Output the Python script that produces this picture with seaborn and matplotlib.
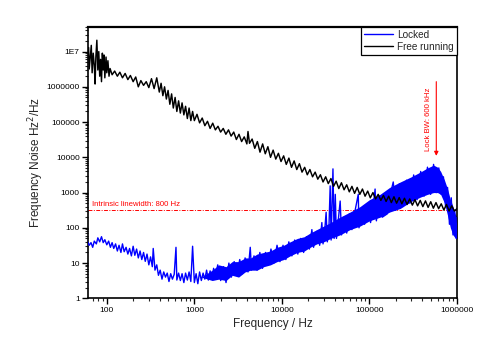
import matplotlib
matplotlib.use("Agg")
import matplotlib.pyplot as plt
from matplotlib.ticker import FixedLocator, FixedFormatter, LogLocator, NullFormatter
import seaborn as sns
import pandas as pd

# ---------------- data ----------------
free_freq = [60, 62, 63, 65, 66.5, 68, 70, 72, 73.5, 75,
             77, 79, 81, 83, 85, 87, 89, 91, 93, 95,
             98, 100, 103, 106, 109,
             115, 123, 132, 141, 151, 162, 174, 186, 200, 214,
             229, 245, 263, 282, 302, 324, 347, 372, 398, 417,
             437, 457, 479, 501, 525, 550, 575, 603, 631, 661,
             692, 724, 759, 794, 832, 871, 912, 955, 1000, 1072,
             1148, 1230, 1318, 1413, 1514, 1622, 1738, 1862, 1995, 2138,
             2291, 2455, 2630, 2818, 3020, 3236, 3467, 3715, 3981, 4100,
             4266, 4571, 4898, 5248, 5623, 6026, 6457, 6918, 7413, 7943,
             8511, 9120, 9772, 10470, 11220, 12020, 12880, 13800, 14790, 15850,
             16980, 18200, 19500, 20890, 22390, 23990, 25700, 27540, 29510, 31620,
             33880, 36310, 38900, 41690, 44670, 47860, 51290, 54950, 58880, 63100,
             67610, 72440, 77620, 83180, 89130, 95500, 102300, 109600, 117500, 125900,
             134900, 144500, 154900, 166000, 177800, 190500, 204200, 218800, 234400, 251200,
             269200, 288400, 309000, 331100, 354800, 380200, 407400, 436500, 467700, 501200,
             537000, 575400, 616600, 660700, 707900, 758600, 812800, 871000, 933300, 1000000]
free_noise = [6.0e6, 1.3e7, 3.2e6, 8.0e6, 1.5e7, 2.5e6, 9.0e6, 4.0e6, 1.2e6, 7.0e6,
              2.1e7, 3.0e6, 1.0e7, 2.0e6, 6.0e6, 1.4e6, 9.0e6, 3.0e6, 8.0e6, 1.8e6,
              7.0e6, 2.5e6, 5.5e6, 2.0e6, 3.3e6,
              2.2e6, 2.8e6, 2.0e6, 2.6e6, 1.8e6, 2.4e6, 1.6e6, 2.1e6, 1.4e6, 1.9e6,
              1.0e6, 1.5e6, 1.1e6, 1.4e6, 9.5e5, 1.7e6, 8.9e5, 1.8e6, 7.1e5, 1.26e6,
              5.6e5, 1.0e6, 4.5e5, 7.9e5, 3.2e5, 6.3e5, 2.5e5, 5.0e5, 2.0e5, 4.0e5,
              1.8e5, 3.5e5, 1.6e5, 2.8e5, 1.26e5, 2.5e5, 1.1e5, 2.0e5, 1.1e5, 1.66e5,
              9.5e4, 1.3e5, 7.9e4, 1.05e5, 6.6e4, 9.3e4, 6.0e4, 7.6e4, 5.2e4, 6.6e4,
              4.5e4, 6.0e4, 4.0e4, 5.2e4, 3.2e4, 4.5e4, 2.8e4, 3.8e4, 2.4e4, 5.4e4,
              2.5e4, 3.3e4, 1.8e4, 2.8e4, 1.4e4, 2.4e4, 1.26e4, 2.0e4, 1.0e4, 1.6e4,
              8.9e3, 1.3e4, 7.6e3, 1.1e4, 6.3e3, 9.5e3, 5.2e3, 7.9e3, 4.5e3, 6.6e3,
              3.8e3, 5.2e3, 3.2e3, 4.5e3, 2.8e3, 3.8e3, 2.4e3, 3.2e3, 2.0e3, 2.8e3,
              1.8e3, 2.5e3, 1.5e3, 2.1e3, 1.3e3, 1.9e3, 1.2e3, 1.66e3, 1.05e3, 1.5e3,
              9.5e2, 1.4e3, 8.9e2, 1.26e3, 7.9e2, 1.1e3, 7.1e2, 1.0e3, 6.6e2, 8.9e2,
              6.0e2, 8.3e2, 5.6e2, 7.9e2, 5.2e2, 7.6e2, 5.0e2, 7.2e2, 4.8e2, 6.9e2,
              4.6e2, 6.6e2, 4.4e2, 6.3e2, 4.2e2, 6.0e2, 4.0e2, 5.8e2, 3.8e2, 5.5e2,
              3.6e2, 5.2e2, 3.5e2, 4.8e2, 3.2e2, 4.6e2, 3.0e2, 4.2e2, 3.0e2, 3.5e2]

locked_freq = [60, 63, 66, 69, 72, 76, 79, 83, 87, 91,
               95, 100, 105, 110, 115, 120, 126, 132, 138, 145,
               151, 158, 166, 174, 182, 191, 200, 209, 219, 229,
               240, 251, 263, 275, 288, 302, 316, 331, 339, 355,
               372, 389, 407, 427, 447, 468, 490, 513, 537, 562,
               589, 617, 631, 661, 692, 724, 759, 794, 832, 871,
               912, 955, 1000, 1047, 1096, 1148, 1202, 1259, 1318, 1380,
               1445, 1514, 1585, 1660, 1738,
               1850, 2000, 2150, 2300, 2480, 2650, 2850, 3050, 3300,
               3550, 3800, 4100, 4350, 4500, 4800, 5200, 5600, 6000, 6500,
               7000, 7500, 8100, 8800, 9500, 10300, 11100, 12000, 13000, 14000,
               15200, 16400, 17700, 19100, 20600, 22000, 23000, 25000, 27000, 28600,
               29500, 31000, 32000, 33000, 34500, 35600, 36500, 38300, 39500, 40700,
               42000, 44000, 46300, 48000, 51000, 55000, 59000, 63000, 68000, 74500,
               76000, 82000, 88000, 95000, 103000, 112000, 116000, 120000, 130000, 140000,
               160000, 175000, 187000, 200000, 220000, 240000, 265000, 290000, 320000, 350000,
               385000, 420000, 460000, 500000, 540000, 580000, 620000, 660000, 700000, 740000,
               780000, 820000, 860000, 900000, 940000, 980000, 1000000]
locked_noise = [42, 32, 38, 28, 42, 35, 52, 40, 56, 38,
                46, 33, 42, 28, 38, 26, 35, 22, 32, 20,
                35, 21, 28, 18, 26, 16, 30, 16.6, 25, 14,
                22, 12.6, 20, 11.2, 18, 8.9, 15, 7.9, 26, 6.3,
                8.9, 4.5, 6.3, 3.5, 5.6, 4.0, 5.2, 3.0, 5.0, 3.5,
                4.8, 28, 3.3, 5.2, 3.2, 5.0, 2.8, 5.2, 3.3, 5.6,
                3.0, 30, 2.8, 5.0, 2.6, 5.6, 3.2, 5.2, 3.5, 6.3,
                3.3, 6.0, 3.5, 7.1, 4.0,
                8.9, 3.2, 7.9, 2.8, 10, 4.0, 11, 4.5, 12.6,
                5.0, 14, 5.6, 28, 6.3, 16, 6.3, 20, 7.1, 20,
                8.9, 25, 10, 32, 11, 32, 12.6, 40, 16, 45,
                18, 50, 20, 56, 25, 89, 28, 79, 32, 141,
                35, 100, 275, 40, 112, 1550, 45, 4700, 50, 890,
                50, 158, 575, 63, 200, 71, 250, 89, 280, 890,
                100, 355, 126, 450, 141, 560, 1260, 158, 790, 200,
                250, 1000, 2000, 316, 1780, 400, 2240, 500, 3160, 630,
                3980, 790, 5250, 890, 6300, 1000, 5000, 890, 2800, 400,
                1400, 126, 710, 63, 316, 50, 200]

band_freq = [1200, 1600, 1900, 2300, 2700, 3200, 3800, 4400, 5200, 6200, 7400,
             8800, 10500, 12400, 15000, 18000, 21000, 25000, 30000, 36000, 46000,
             60000, 78000, 100000, 132000, 170000, 225000, 300000, 380000, 460000, 540000,
             600000, 650000, 720000, 780000, 840000, 900000, 950000, 1000000]
band_low = [4.0, 3.2, 3.5, 3.2, 4.5, 4.0, 5.6, 6.3, 6.3, 7.9, 8.9,
            11, 12.6, 16, 20, 22, 28, 35, 40, 50, 63,
            89, 112, 158, 200, 280, 355, 560, 740, 890, 1000,
            1000, 890, 500, 224, 100, 63, 52, 50]
band_high = [4.0, 6.3, 8.9, 7.9, 11, 11, 14, 14, 18, 20, 22,
             28, 32, 40, 50, 56, 71, 89, 112, 141, 200,
             280, 400, 630, 890, 1400, 2000, 2800, 3800, 5000, 6000,
             5250, 4000, 2240, 1260, 630, 400, 250, 200]

series_names = ["Locked", "Free running"]
x_ticks = [100, 1000, 10000, 100000, 1000000]
x_tick_labels = ["100", "1000", "10000", "100000", "1000000"]
y_ticks = [1, 10, 100, 1000, 10000, 100000, 1000000, 10000000]
y_tick_labels = ["1", "10", "100", "1000", "10000", "100000", "1000000", "1E7"]
linewidth_level = 330          # intrinsic linewidth reference level
lock_bw_freq = 580000          # lock bandwidth marker frequency
arrow_top, arrow_tip = 1.4e6, 1.1e4

# ---------------- styling ----------------
sns.set_style("ticks")
plt.rcParams["font.family"] = ["Liberation Sans", "DejaVu Sans"]

fig = plt.figure(figsize=(5.0, 3.59), dpi=100)
ax = fig.add_axes([0.176, 0.169, 0.738, 0.756])

locked_df = pd.DataFrame({"f": locked_freq, "v": locked_noise})
free_df = pd.DataFrame({"f": free_freq, "v": free_noise})

ax.fill_between(band_freq, band_low, band_high, color="#0000FF", linewidth=0, zorder=2)
sns.lineplot(data=locked_df, x="f", y="v", ax=ax, color="#0000FF", lw=1.0,
             estimator=None, sort=False, label=series_names[0], zorder=3)
sns.lineplot(data=free_df, x="f", y="v", ax=ax, color="black", lw=1.05,
             estimator=None, sort=False, label=series_names[1], zorder=4)

ax.set_xscale("log")
ax.set_yscale("log")
ax.set_xlim(61, 1.0e6)
ax.set_ylim(1, 5e7)

ax.xaxis.set_major_locator(FixedLocator(x_ticks))
ax.xaxis.set_major_formatter(FixedFormatter(x_tick_labels))
ax.yaxis.set_major_locator(FixedLocator(y_ticks))
ax.yaxis.set_major_formatter(FixedFormatter(y_tick_labels))
ax.xaxis.set_minor_locator(LogLocator(base=10, subs=range(2, 10), numticks=20))
ax.yaxis.set_minor_locator(LogLocator(base=10, subs=range(2, 10), numticks=20))
ax.xaxis.set_minor_formatter(NullFormatter())
ax.yaxis.set_minor_formatter(NullFormatter())

ax.tick_params(which="major", direction="out", length=4, width=1, labelsize=6,
               colors="black", pad=2, top=False, right=False)
ax.tick_params(which="minor", direction="out", length=2, width=0.8,
               top=False, right=False)
for side in ["left", "bottom", "top", "right"]:
    ax.spines[side].set_visible(True)
    ax.spines[side].set_color("black")
    ax.spines[side].set_linewidth(1.2)
ax.spines["top"].set_linewidth(1.6)

ax.set_xlabel("Frequency / Hz", fontsize=8.5, labelpad=3)
ax.set_ylabel("Frequency Noise Hz$^2$/Hz", fontsize=8.5, labelpad=0)

# annotations
ax.axhline(linewidth_level, color="#FF0000", lw=0.7, ls=(0, (4, 1.5, 1, 1.5)), zorder=1.5)
ax.text(68, linewidth_level * 1.12, "Intrinsic linewidth: 800 Hz", color="#FF0000",
        fontsize=5.6, ha="left", va="bottom")
ax.annotate("", xy=(lock_bw_freq, arrow_tip), xytext=(lock_bw_freq, arrow_top),
            arrowprops=dict(arrowstyle="-|>", color="#FF0000", lw=0.8,
                            mutation_scale=6, shrinkA=0, shrinkB=0), zorder=5)
ax.text(470000, 1.2e5, "Lock BW: 600 kHz", color="#FF0000", fontsize=5.6,
        rotation=90, ha="center", va="center")

leg = ax.legend(loc="upper right", borderaxespad=0, fontsize=7.2, frameon=True,
                fancybox=False, edgecolor="black", handlelength=2.9,
                handletextpad=0.4, borderpad=0.3, labelspacing=0.2)
leg.get_frame().set_linewidth(0.9)
leg.get_frame().set_alpha(1)
for line in leg.get_lines():
    line.set_linewidth(1.0)

fig.savefig("out.png", dpi=100)
